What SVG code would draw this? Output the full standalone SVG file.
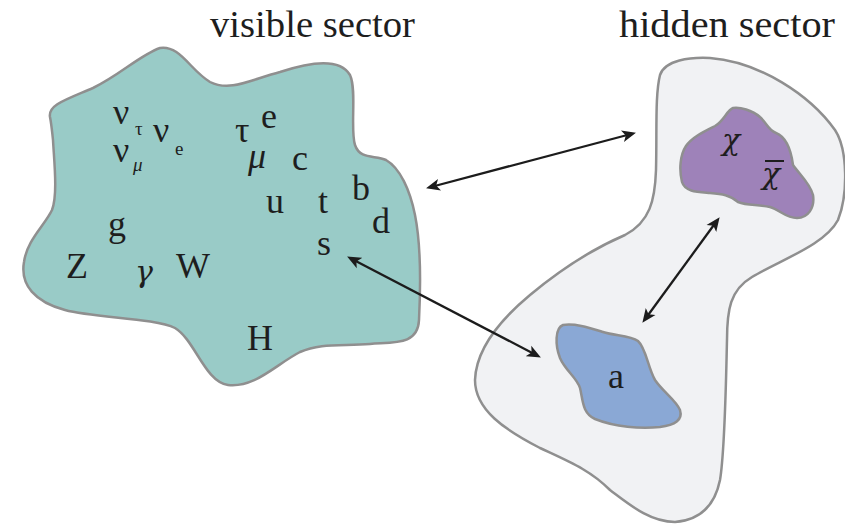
<svg xmlns="http://www.w3.org/2000/svg" width="845" height="526" viewBox="0 0 845 526">
  <style>
    .blob { stroke: #8f8f8f; stroke-width: 2.5; stroke-linejoin: round; }
    .title { font-family: "Liberation Serif", "DejaVu Serif", serif; font-size: 37px; fill: #1e1e1e; }
    .lbl { font-family: "Liberation Serif", "DejaVu Serif", serif; font-size: 36px; fill: #1e1e1e; }
    .sub { font-family: "Liberation Serif", "DejaVu Serif", serif; font-size: 19px; fill: #1e1e1e; }
    .gk { font-family: "DejaVu Serif", "Liberation Serif", serif; font-style: italic; font-size: 30px; fill: #1e1e1e; }
    .it { font-style: italic; }
    .bar { stroke: #1e1e1e; stroke-width: 2; }
    .conn { stroke: #1c1c1c; stroke-width: 2.3; fill: none; marker-start: url(#head); marker-end: url(#head); }
  </style>
  <defs>
    <marker id="head" markerUnits="userSpaceOnUse" markerWidth="16" markerHeight="14" viewBox="0 -7 16 14" refX="7" refY="0" orient="auto-start-reverse">
      <path d="M0,-6 L14,0 L0,6 L3.5,0 Z" fill="#1c1c1c"/>
    </marker>
  </defs>

  <rect width="845" height="526" fill="#ffffff"/>

  <!-- sector titles -->
  <text class="title" x="210" y="37" textLength="205" lengthAdjust="spacingAndGlyphs">visible sector</text>
  <text class="title" x="619" y="37" textLength="216" lengthAdjust="spacingAndGlyphs">hidden sector</text>

  <!-- visible sector: Standard Model particles -->
  <g id="visible-sector">
    <path class="blob" fill="#99cbc7" d="M50,117 C48,105 65,100 93,88 C120,75 140,55 160,48 C180,45 190,70 210,82 C230,92 250,80 280,72 C310,62 340,58 350,75 C357,90 350,130 355,145 C360,160 375,155 386,160 C400,168 410,190 415,215 C422,250 420,300 419,320 C418,345 395,342 370,344 C340,346 320,343 300,352 C275,365 255,388 228,385 C205,382 195,340 175,328 C155,318 95,318 65,310 C35,302 20,285 24,262 C27,240 45,225 52,210 C58,195 54,160 53,140 C52,130 51,122 50,117 Z"/>
    <text class="lbl" x="113" y="124">ν</text>
    <text class="sub" x="135" y="135">τ</text>
    <text class="lbl" x="153" y="142">ν</text>
    <text class="sub" x="175" y="155">e</text>
    <text class="lbl" x="113" y="162">ν</text>
    <text class="sub it" x="133" y="171">μ</text>
    <text class="lbl" x="235" y="142">τ</text>
    <text class="lbl" x="261" y="128">e</text>
    <text class="lbl it" x="248" y="168">μ</text>
    <text class="lbl" x="292" y="170">c</text>
    <text class="lbl" x="266" y="213">u</text>
    <text class="lbl" x="318" y="213">t</text>
    <text class="lbl" x="352" y="200">b</text>
    <text class="lbl" x="372" y="233">d</text>
    <text class="lbl" x="317" y="255">s</text>
    <text class="lbl" x="108" y="236">g</text>
    <text class="lbl" x="66" y="278">Z</text>
    <text class="gk" x="135" y="282">γ</text>
    <text class="lbl" x="176" y="278">W</text>
    <text class="lbl" x="247" y="350">H</text>
  </g>

  <!-- hidden sector container -->
  <g id="hidden-sector">
    <path class="blob" fill="#f1f2f4" d="M660,75 C665,60 690,57 710,58 C760,62 810,95 835,130 C848,150 848,195 838,220 C825,245 780,260 752,277 C730,290 727,310 727,340 C726,380 725,450 720,480 C715,505 700,520 675,522 C650,522 630,505 610,490 C590,470 570,462 540,448 C505,430 475,410 475,380 C476,350 500,320 530,295 C560,270 590,250 625,235 C650,222 655,200 656,170 C657,130 655,95 660,75 Z"/>
  </g>

  <!-- dark matter and its antiparticle -->
  <g id="dark-matter">
    <path class="blob" fill="#9e82b9" d="M733,108 C740,107 752,110 760,117 C766,122 768,130 776,133 C786,137 791,150 793,165 C800,175 810,183 813,195 C815,208 808,218 797,218 C786,218 780,210 770,207 C758,204 748,206 738,202 C730,195 722,194 710,193 C698,192 685,192 682,182 C679,170 680,155 686,146 C692,137 705,131 715,126 C724,121 727,110 733,108 Z"/>
    <text class="gk" x="722" y="150">χ</text>
    <text class="gk" x="762" y="184">χ</text>
    <line class="bar" x1="765" y1="161" x2="784" y2="161"/>
  </g>

  <!-- axion -->
  <g id="axion">
    <path class="blob" fill="#8aa8d5" d="M563,325 C575,323 590,328 603,332 C615,336 630,335 638,341 C646,348 648,368 655,380 C663,392 676,400 680,410 C683,420 675,425 660,427 C640,429 615,427 595,419 C582,413 583,400 580,388 C577,378 565,370 560,358 C555,345 555,328 563,325 Z"/>
    <text class="lbl" x="608" y="388">a</text>
  </g>

  <!-- portals between the sectors -->
  <g id="connectors">
    <line class="conn" x1="432.8" y1="186.5" x2="629.2" y2="134.5"/>
    <line class="conn" x1="353.3" y1="259.8" x2="534.7" y2="354.2"/>
    <line class="conn" x1="715.5" y1="222.8" x2="646.5" y2="317.2"/>
  </g>
</svg>
